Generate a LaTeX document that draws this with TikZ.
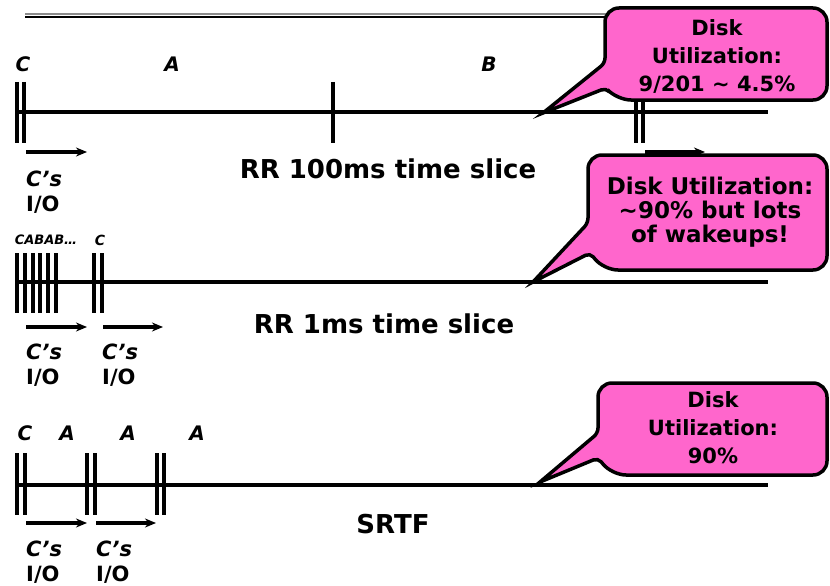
\documentclass[tikz,border=0pt]{standalone}
\usepackage{fontspec}
\setmainfont{DejaVu Sans}
\usetikzlibrary{arrows.meta}
\definecolor{balloonpink}{RGB}{255,102,204}
\tikzset{
  axis/.style={black, line width=4pt},
  slicemark/.style={black, line width=3.6pt},
  iorun/.style={-{Stealth[length=11pt,width=9pt]}, line width=3.2pt},
  proc/.style={font=\fontsize{20}{20}\selectfont\bfseries\itshape, inner sep=0pt},
  smallproc/.style={font=\fontsize{13}{13}\selectfont\bfseries\itshape, inner sep=0pt},
  iolab/.style={font=\fontsize{21}{25}\selectfont\bfseries, align=left,
                inner sep=0pt, anchor=north west},
  policy/.style={font=\fontsize{26}{30}\selectfont\bfseries, inner sep=0pt, anchor=base},
  balloon/.style={draw=black, fill=balloonpink, line width=3.5pt, rounded corners=14pt},
  balloontext/.style={font=\fontsize{21}{28}\selectfont\bfseries, align=center, inner sep=0pt},
}

\begin{document}
\begin{tikzpicture}[x=1pt,y=-1pt]
  \path[use as bounding box] (0,0) rectangle (830,586);

  % header rule
  \draw[black!45, line width=2pt] (25,14.5) -- (620,14.5);
  \draw[black, line width=1.5pt] (25,17) -- (620,17);

  % RR 100ms time slice
  \coordinate (rr100start) at (17,112);
  \coordinate (rr100end) at (768,112);
  \draw[axis] (rr100start) -- (rr100end);
  \foreach \x in {17,24,333,636,643}
    \draw[slicemark] (\x,82) -- (\x,143);
  \node[proc] (rr100C) at (23,64) {C};
  \node[proc] (rr100A) at (172,64) {A};
  \node[proc] (rr100B) at (489,64) {B};
  \draw[iorun] (26,152) -- (87,152);
  \draw[iorun] (645,152) -- (705,152);
  \node[iolab] (rr100io) at (26,171) {\textit{C's}\\I/O};
  \node[policy] (rr100lab) at (388,178) {RR 100ms time slice};

  % RR 1ms time slice
  \coordinate (rr1start) at (17,282);
  \coordinate (rr1end) at (768,282);
  \draw[axis] (rr1start) -- (rr1end);
  \foreach \x in {17,25,33,40,48,56,94,102}
    \draw[slicemark] (\x,253) -- (\x,313);
  \node[smallproc] (rr1CAB) at (46,240) {CABAB…};
  \node[smallproc, font=\fontsize{14}{14}\selectfont\bfseries\itshape] (rr1C) at (100,240) {C};
  \draw[iorun] (26,327) -- (87,327);
  \draw[iorun] (103,327) -- (163,327);
  \node[iolab] (rr1ioa) at (26,344) {\textit{C's}\\I/O};
  \node[iolab] (rr1iob) at (102,344) {\textit{C's}\\I/O};
  \node[policy] (rr1lab) at (384,333) {RR 1ms time slice};

  % SRTF
  \coordinate (srtfstart) at (17,485);
  \coordinate (srtfend) at (768,485);
  \draw[axis] (srtfstart) -- (srtfend);
  \foreach \x in {17,25,87,95,157,164}
    \draw[slicemark] (\x,453) -- (\x,515);
  \node[proc] (srtfC) at (25,433) {C};
  \node[proc] (srtfA1) at (67,433) {A};
  \node[proc] (srtfA2) at (128,433) {A};
  \node[proc] (srtfA3) at (197,433) {A};
  \draw[iorun] (26,523) -- (87,523);
  \draw[iorun] (96,523) -- (156,523);
  \node[iolab] (srtfioa) at (26,541) {\textit{C's}\\I/O};
  \node[iolab] (srtfiob) at (96,541) {\textit{C's}\\I/O};
  \node[policy] (srtflab) at (393,533) {SRTF};

  % disk utilization balloons
  \draw[balloon] (716,8) -- (827,8) -- (827,100) -- (617,100)
    [rounded corners=5pt] -- (606,88) [sharp corners] -- (543,113)
    [rounded corners=5pt] -- (605,63) [rounded corners=14pt] -- (605,8) -- cycle;
  \node[balloontext] (util100) at (717,56) {Disk\\Utilization:\\9/201 \textasciitilde{} 4.5\%};

  \draw[balloon] (708,155) -- (827,155) -- (827,270) -- (604,270)
    [rounded corners=5pt] -- (590,253) [sharp corners] -- (533,282)
    [rounded corners=5pt] -- (588,223) [rounded corners=14pt] -- (588,155) -- cycle;
  \node[balloontext, font=\fontsize{23}{24}\selectfont\bfseries] (util1)
    at (710,212) {Disk Utilization:\\\textasciitilde{}90\% but lots\\of wakeups!};

  \draw[balloon] (712,383) -- (827,383) -- (827,475) -- (612,475)
    [rounded corners=5pt] -- (598,458) [sharp corners] -- (540,482)
    [rounded corners=5pt] -- (598,433) [rounded corners=14pt] -- (598,383) -- cycle;
  \node[balloontext] (utilsrtf) at (713,428) {Disk\\Utilization:\\90\%};
\end{tikzpicture}
\end{document}
